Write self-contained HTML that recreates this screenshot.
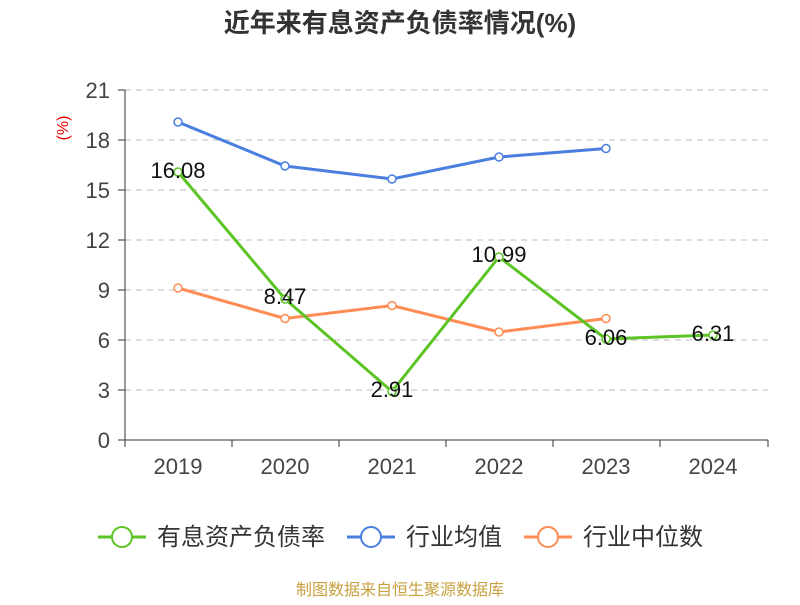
<!DOCTYPE html>
<html><head><meta charset="utf-8"><style>
body{margin:0;background:#fff;}
svg text{font-family:"Liberation Sans","Noto Sans CJK SC",sans-serif;}
</style></head><body>
<svg width="800" height="600" viewBox="0 0 800 600" xmlns="http://www.w3.org/2000/svg">
<text x="400" y="32" text-anchor="middle" font-size="26" font-weight="bold" fill="#333">近年来有息资产负债率情况(%)</text>
<text x="68" y="128" font-size="16" fill="#e00" text-anchor="middle" transform="rotate(-90 68 128)">(%)</text>
<g stroke="#bbb" stroke-dasharray="6,5" stroke-width="1">
<line x1="125" x2="768" y1="90" y2="90"/><line x1="125" x2="768" y1="140" y2="140"/>
<line x1="125" x2="768" y1="190" y2="190"/><line x1="125" x2="768" y1="240" y2="240"/>
<line x1="125" x2="768" y1="290" y2="290"/><line x1="125" x2="768" y1="340" y2="340"/>
<line x1="125" x2="768" y1="390" y2="390"/>
</g>
<g stroke="#333" stroke-width="1">
<line x1="125" x2="125" y1="90" y2="440"/>
<line x1="125" x2="768" y1="440" y2="440"/>
<line x1="118" x2="125" y1="90" y2="90"/><line x1="118" x2="125" y1="140" y2="140"/><line x1="118" x2="125" y1="190" y2="190"/><line x1="118" x2="125" y1="240" y2="240"/><line x1="118" x2="125" y1="290" y2="290"/><line x1="118" x2="125" y1="340" y2="340"/><line x1="118" x2="125" y1="390" y2="390"/><line x1="118" x2="125" y1="440" y2="440"/>
<line x1="125" x2="125" y1="440" y2="447"/><line x1="232" x2="232" y1="440" y2="447"/><line x1="339" x2="339" y1="440" y2="447"/><line x1="446" x2="446" y1="440" y2="447"/><line x1="553" x2="553" y1="440" y2="447"/><line x1="660" x2="660" y1="440" y2="447"/><line x1="768" x2="768" y1="440" y2="447"/>
</g>
<g font-size="22" fill="#444" text-anchor="end">
<text x="110" y="98">21</text><text x="110" y="148">18</text><text x="110" y="198">15</text><text x="110" y="248">12</text><text x="110" y="298">9</text><text x="110" y="348">6</text><text x="110" y="398">3</text><text x="110" y="448">0</text>
</g>
<g font-size="22" fill="#444" text-anchor="middle">
<text x="178" y="474">2019</text><text x="285" y="474">2020</text><text x="392" y="474">2021</text><text x="499" y="474">2022</text><text x="606" y="474">2023</text><text x="713" y="474">2024</text>
</g>
<polyline fill="none" stroke="#4a7fe0" stroke-width="3" points="178,122 285,166 392,179 499,157 606,148.5"/>
<polyline fill="none" stroke="#ff8c55" stroke-width="3" points="178,288 285,318.5 392,305.5 499,332 606,318.5"/>
<polyline fill="none" stroke="#5cc425" stroke-width="3" points="178,172 285,299 392,391.5 499,257 606,339 713,335"/>
<g fill="#fff" stroke-width="1.5">
<g stroke="#4a7fe0"><circle cx="178" cy="122" r="4"/><circle cx="285" cy="166" r="4"/><circle cx="392" cy="179" r="4"/><circle cx="499" cy="157" r="4"/><circle cx="606" cy="148.5" r="4"/></g>
<g stroke="#ff8c55"><circle cx="178" cy="288" r="4"/><circle cx="285" cy="318.5" r="4"/><circle cx="392" cy="305.5" r="4"/><circle cx="499" cy="332" r="4"/><circle cx="606" cy="318.5" r="4"/></g>
<g stroke="#5cc425"><circle cx="178" cy="172" r="4"/><circle cx="285" cy="299" r="4"/><circle cx="392" cy="391.5" r="4"/><circle cx="499" cy="257" r="4"/><circle cx="606" cy="339" r="4"/><circle cx="713" cy="335" r="4"/></g>
</g>
<g font-size="22" fill="#111" text-anchor="middle">
<text x="178" y="178">16.08</text><text x="285" y="304">8.47</text><text x="392" y="397">2.91</text><text x="499" y="262">10.99</text><text x="606" y="345">6.06</text><text x="713" y="341">6.31</text>
</g>
<g font-size="24" fill="#333">
<line x1="98" x2="146" y1="537" y2="537" stroke="#5cc425" stroke-width="3"/><circle cx="122" cy="537" r="10" fill="#fff" stroke="#5cc425" stroke-width="2"/>
<text x="157" y="545">有息资产负债率</text>
<line x1="347" x2="395" y1="537" y2="537" stroke="#4a7fe0" stroke-width="3"/><circle cx="371" cy="537" r="10" fill="#fff" stroke="#4a7fe0" stroke-width="2"/>
<text x="406" y="545">行业均值</text>
<line x1="524" x2="572" y1="537" y2="537" stroke="#ff8c55" stroke-width="3"/><circle cx="548" cy="537" r="10" fill="#fff" stroke="#ff8c55" stroke-width="2"/>
<text x="583" y="545">行业中位数</text>
</g>
<text x="400" y="595" text-anchor="middle" font-size="16" fill="#c8a040">制图数据来自恒生聚源数据库</text>
</svg>
</body></html>
